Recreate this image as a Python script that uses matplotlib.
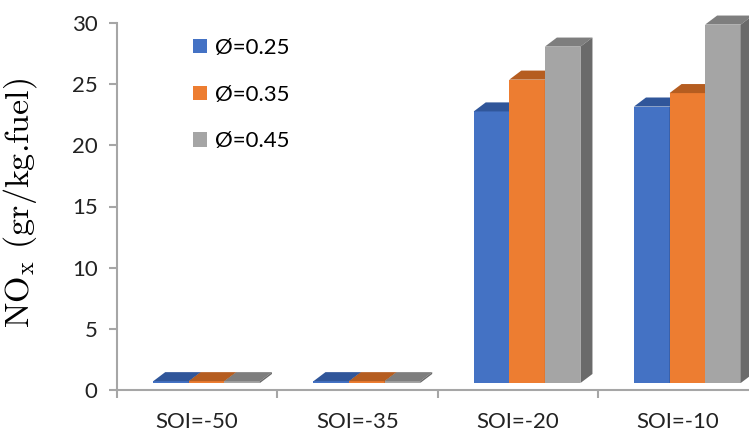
import numpy as np
import matplotlib.pyplot as plt
from matplotlib.patches import Polygon, Patch

categories = ["SOI=-50", "SOI=-35", "SOI=-20", "SOI=-10"]
series_names = ["Ø=0.25", "Ø=0.35", "Ø=0.45"]
nox_025 = [0.15, 0.15, 22.2, 22.6]
nox_035 = [0.15, 0.15, 24.8, 23.7]
nox_045 = [0.15, 0.15, 27.5, 29.3]
yticks = [0, 5, 10, 15, 20, 25, 30]

front_colors = ["#4472C4", "#ED7D31", "#A5A5A5"]
top_colors = ["#30569A", "#B55D20", "#7E7E7E"]
side_colors = ["#2C4F8F", "#A9561D", "#6A6A6A"]

plt.rcParams['font.family'] = ['Lato', 'DejaVu Sans']
plt.rcParams['mathtext.fontset'] = 'cm'

fig = plt.figure(figsize=(7.49, 4.32), dpi=100)
ax = fig.add_axes([117 / 749, 42 / 432, 641 / 749, 367 / 432])

x = np.arange(len(categories))
w = 0.222          # bar width (category units)
shift = 0.059      # front faces sit a bit right of the category centre
dx, dy = 0.075, 0.74  # depth offset for the fake 3d look
base = 0.57        # front faces start slightly above the floor line

for i, vals in enumerate([nox_025, nox_035, nox_045]):
    xs = x + shift + (i - 1) * w
    bars = ax.bar(xs, vals, width=w, bottom=base, color=front_colors[i],
                  linewidth=0, zorder=2 + i, clip_on=False)
    for b in bars:
        xl = b.get_x()
        xr = xl + b.get_width()
        top = b.get_y() + b.get_height()
        ax.add_patch(Polygon([(xl, top), (xl + dx, top + dy),
                              (xr + dx, top + dy), (xr, top)],
                             closed=True, facecolor=top_colors[i],
                             linewidth=0, zorder=2 + i, clip_on=False))
        ax.add_patch(Polygon([(xr, base), (xr + dx, base + dy),
                              (xr + dx, top + dy), (xr, top)],
                             closed=True, facecolor=side_colors[i],
                             linewidth=0, zorder=2 + i, clip_on=False))

ax.set_xlim(-0.49, 3.5)
ax.set_ylim(0, 30)

ax.spines['top'].set_visible(False)
ax.spines['right'].set_visible(False)
for s in ['left', 'bottom']:
    ax.spines[s].set_color('#A6A6A6')
    ax.spines[s].set_linewidth(1.5)

ax.set_yticks(yticks)
ax.tick_params(axis='y', direction='out', length=6, width=1.5,
               color='#A6A6A6', labelsize=16, pad=8, labelcolor='#222222')

# category labels centred, tick marks on the category boundaries
ax.set_xticks(x)
ax.set_xticklabels(categories)
ax.set_xticks(np.arange(len(categories) + 1) - 0.5, minor=True)
ax.tick_params(axis='x', which='major', length=0, labelsize=16, pad=16,
               labelcolor='#222222')
ax.tick_params(axis='x', which='minor', direction='out', length=6,
               width=1.5, color='#A6A6A6')

ax.set_ylabel(r"NO$_{\mathrm{x}}$ (gr/kg.fuel)", family='cmr10', fontsize=24.5)
ax.yaxis.set_label_coords(-0.122, 0.51)

handles = [Patch(facecolor=c, edgecolor='none') for c in front_colors]
fig.legend(handles, series_names, loc='upper left',
           bbox_to_anchor=(193 / 749, 1 - 38 / 432), frameon=False,
           fontsize=16, handlelength=0.63, handleheight=0.63,
           handletextpad=0.36, labelspacing=1.2, borderpad=0,
           borderaxespad=0)

fig.savefig("out.png", dpi=100)
